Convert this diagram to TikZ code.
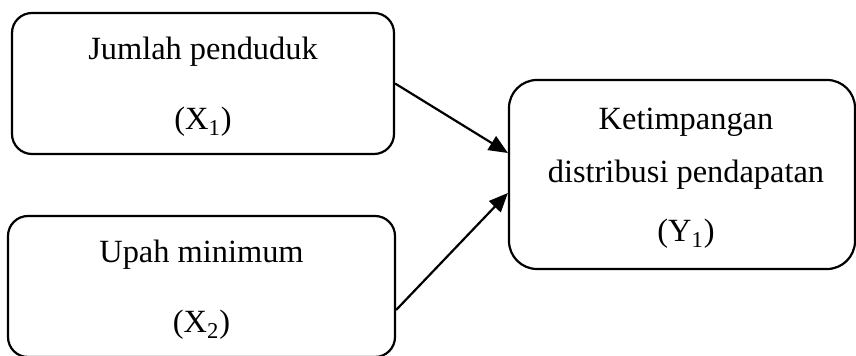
\documentclass[tikz,border=0pt]{standalone}
\usepackage{fontspec}
\setmainfont{Liberation Serif}
\usetikzlibrary{arrows.meta}
\begin{document}
\begin{tikzpicture}[x=0.5pt,y=-0.5pt,
  box/.style={draw, line width=1.1pt, rounded corners=10pt, inner sep=0pt},
  lbl/.style={anchor=base, inner sep=0pt, font=\fontsize{16.2}{19}\selectfont},
  link/.style={line width=1.1pt, -{Triangle[length=9.5pt,width=8pt]}}]
  \useasboundingbox (0,0) rectangle (856,356);
  % left boxes (independent variables)
  \node[box, minimum width=191pt, minimum height=70.5pt] (b1) at (203,83.5) {};
  \node[box, minimum width=193.5pt, minimum height=70.5pt] (b2) at (201.5,286.5) {};
  % right box (dependent variable)
  \node[box, rounded corners=14pt, minimum width=173pt, minimum height=94.5pt] (b3) at (682,174.5) {};
  % texts
  \node[lbl] (t1a) at (203,60) {Jumlah penduduk};
  \node[lbl] (t1b) at (203,130) {(X\textsubscript{1})};
  \node[lbl] (t2a) at (201.5,263) {Upah minimum};
  \node[lbl] (t2b) at (201.5,333) {(X\textsubscript{2})};
  \node[lbl] (t3a) at (686,130) {Ketimpangan};
  \node[lbl] (t3b) at (686,183) {distribusi pendapatan};
  \node[lbl] (t3c) at (686,242) {(Y\textsubscript{1})};
  % connectors
  \draw[link] (b1.east) -- ([yshift=10.75pt]b3.west);
  \draw[link] ([yshift=-11.75pt]b2.east) -- ([yshift=-9.25pt]b3.west);
\end{tikzpicture}
\end{document}
